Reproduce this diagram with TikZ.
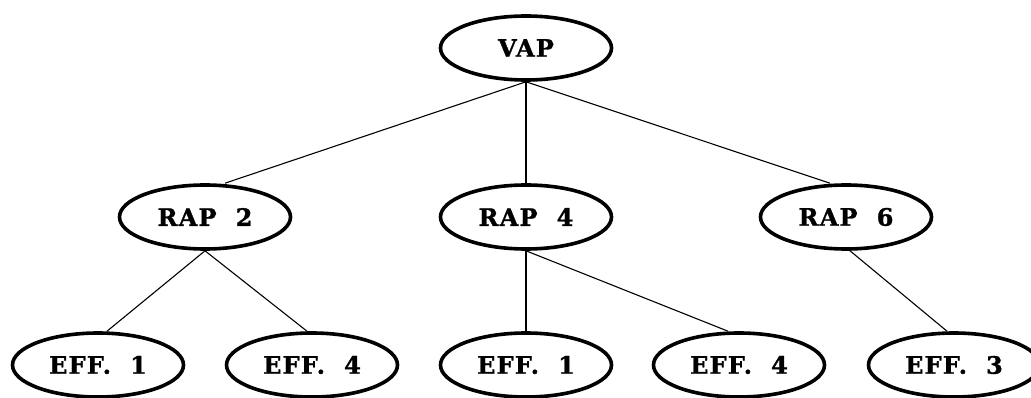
\documentclass[tikz,border=0pt]{standalone}
\usepackage{fontspec}
\newfontfamily\labelfont[LetterSpace=5,FakeBold=1.2]{DejaVu Serif}
\usetikzlibrary{shapes.geometric}
\begin{document}
\begin{tikzpicture}[x=1pt,y=-1pt,
  nodebox/.style={ellipse,draw,line width=3.6pt,minimum width=171pt,minimum height=64pt,inner sep=0pt,
    font=\labelfont\bfseries\fontsize{24}{25}\selectfont},
  link/.style={line width=1.1pt}]
\useasboundingbox (0,0) rectangle (1031,398);
\node[nodebox] (vap) at (526,48) {VAP};
\node[nodebox] (rap2) at (205,217) {RAP\ \ 2};
\node[nodebox] (rap4) at (526,217) {RAP\ \ 4};
\node[nodebox] (rap6) at (846,217) {RAP\ \ 6};
\node[nodebox] (effa) at (98,365) {EFF.\ \ 1};
\node[nodebox] (effb) at (312,365) {EFF.\ \ 4};
\node[nodebox] (effc) at (526,365) {EFF.\ \ 1};
\node[nodebox] (effd) at (739,365) {EFF.\ \ 4};
\node[nodebox] (effe) at (954,365) {EFF.\ \ 3};
\draw[link] (vap.south) -- ([xshift=20pt]rap2.north);
\draw[link] (vap.south) -- (rap4.north);
\draw[link] (vap.south) -- ([xshift=-16pt]rap6.north);
\draw[link] (rap2.south) -- ([xshift=9pt]effa.north);
\draw[link] (rap2.south) -- ([xshift=-5pt]effb.north);
\draw[link] (rap4.south) -- (effc.north);
\draw[link] (rap4.south) -- ([xshift=-11pt]effd.north);
\draw[link] ([xshift=4pt]rap6.south) -- ([xshift=-7pt]effe.north);
\end{tikzpicture}
\end{document}
